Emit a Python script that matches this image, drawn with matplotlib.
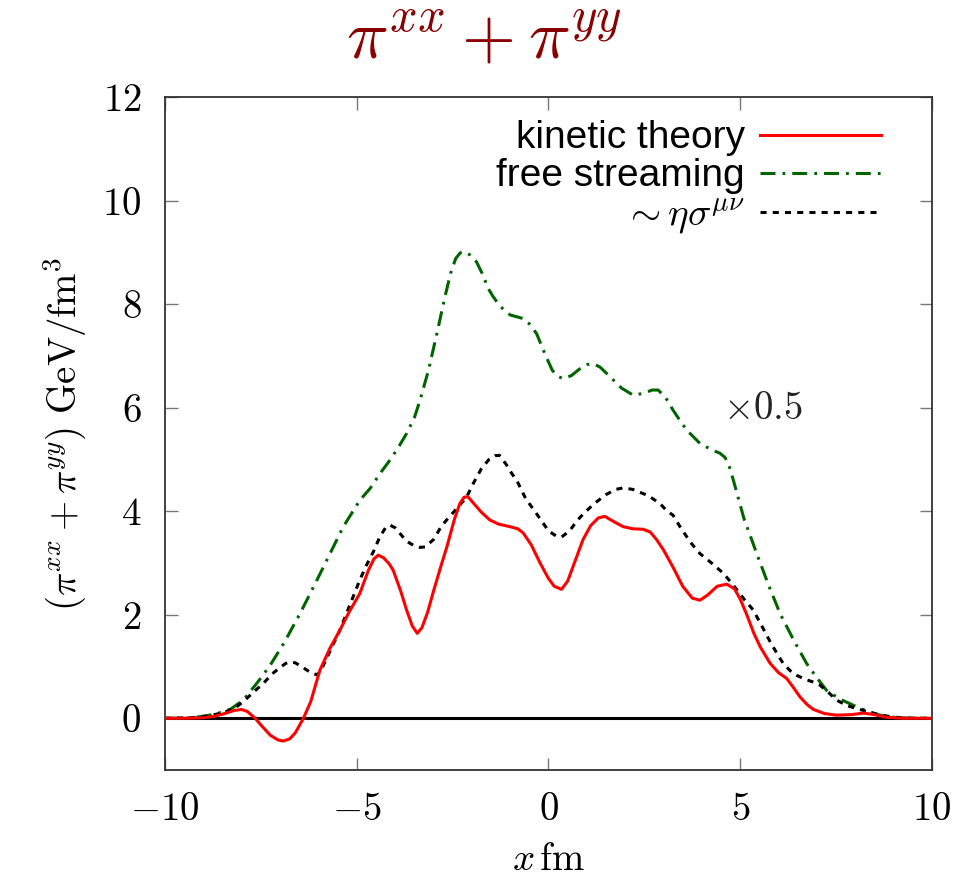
import matplotlib
matplotlib.use('Agg')
import matplotlib.pyplot as plt
from matplotlib.ticker import FuncFormatter

plt.rcParams['mathtext.fontset'] = 'cm'
plt.rcParams['font.family'] = ['Liberation Sans', 'DejaVu Sans']

# kinetic theory (red)
x_kin = [-10, -9.5, -9.0, -8.7, -8.4, -8.2, -8.0, -7.85, -7.65, -7.45, -7.25, -7.05, -6.92,
         -6.75, -6.6, -6.39, -6.2, -5.96, -5.7, -5.44, -5.2, -4.92, -4.7, -4.55, -4.44,
         -4.3, -4.15, -4.05, -3.85, -3.7, -3.55, -3.42, -3.3, -3.15, -3.0, -2.8, -2.65,
         -2.45, -2.31, -2.2, -2.1, -1.95, -1.75, -1.53, -1.3, -1.0, -0.8, -0.66, -0.45,
         -0.22, 0.0, 0.15, 0.34, 0.5, 0.7, 0.9, 1.1, 1.3, 1.47, 1.7, 1.95, 2.2, 2.47,
         2.65, 2.82, 3.0, 3.26, 3.5, 3.75, 3.95, 4.15, 4.4, 4.65, 4.85, 5.0, 5.16, 5.35,
         5.52, 5.78, 6.0, 6.21, 6.4, 6.56, 6.75, 6.91, 7.2, 7.51, 7.9, 8.21, 8.5, 8.8,
         9.2, 10]
y_kin = [0, 0, 0.01, 0.04, 0.10, 0.15, 0.17, 0.13, 0.0, -0.17, -0.33, -0.42, -0.44,
         -0.40, -0.28, 0.0, 0.32, 0.93, 1.35, 1.70, 2.05, 2.41, 2.85, 3.08, 3.15,
         3.10, 2.98, 2.86, 2.45, 2.09, 1.78, 1.64, 1.75, 2.05, 2.45, 2.95, 3.31,
         3.85, 4.15, 4.27, 4.28, 4.15, 3.98, 3.83, 3.75, 3.70, 3.66, 3.58, 3.35,
         3.0, 2.7, 2.55, 2.49, 2.65, 3.05, 3.45, 3.72, 3.87, 3.90, 3.80, 3.70, 3.66, 3.65,
         3.6, 3.45, 3.25, 2.9, 2.55, 2.32, 2.28, 2.38, 2.55, 2.59, 2.5, 2.3, 2.02, 1.65,
         1.38, 1.06, 0.88, 0.77, 0.58, 0.41, 0.26, 0.17, 0.09, 0.06, 0.07, 0.10, 0.07, 0.02,
         0, 0]

# free streaming x0.5 (green)
x_fs = [-10, -9.5, -9.2, -8.9, -8.6, -8.3, -7.96, -7.6, -7.26, -6.9, -6.48, -6.05, -5.61,
        -5.35, -4.92, -4.65, -4.4, -4.13, -3.9, -3.7, -3.5, -3.35, -3.13, -2.91, -2.7,
        -2.55, -2.42, -2.3, -2.18, -2.05, -1.88, -1.72, -1.57, -1.44, -1.25, -1.0, -0.8,
        -0.66, -0.5, -0.31, -0.1, 0.1, 0.25, 0.39, 0.6, 0.8, 1.0, 1.17, 1.35, 1.6, 1.9,
        2.21, 2.5, 2.7, 2.86, 3.05, 3.25, 3.43, 3.6, 3.8, 3.95, 4.12, 4.3, 4.47, 4.6, 4.7,
        4.82, 4.95, 5.1, 5.25, 5.43, 5.75, 6.04, 6.4, 6.73, 7.0, 7.25, 7.6, 7.95, 8.3,
        8.64, 9.0, 9.4, 10]
y_fs = [0, 0, 0.02, 0.05, 0.1, 0.17, 0.35, 0.68, 1.02, 1.45, 2.02, 2.65, 3.31,
        3.70, 4.21, 4.44, 4.72, 4.99, 5.25, 5.50, 5.8, 6.14, 6.72, 7.43, 8.14,
        8.6, 8.88, 8.99, 9.01, 8.95, 8.82, 8.58, 8.30, 8.14, 7.95, 7.79, 7.75,
        7.72, 7.62, 7.43, 7.05, 6.72, 6.6, 6.56, 6.62, 6.74, 6.83, 6.85, 6.78, 6.60, 6.38,
        6.24, 6.28, 6.34, 6.34, 6.2, 5.95, 5.75, 5.57, 5.42, 5.31, 5.24, 5.17, 5.12, 5.04, 4.9,
        4.60, 4.25, 3.85, 3.55, 3.18, 2.55, 2.02, 1.5, 1.06, 0.78, 0.54, 0.37, 0.25, 0.14,
        0.06, 0.02, 0, 0]

# ~ eta sigma (black)
x_ns = [-10, -9.3, -8.8, -8.4, -8.1, -7.96, -7.7, -7.44, -7.2, -7.0, -6.85, -6.74, -6.6,
        -6.4, -6.2, -6.04, -5.95, -5.87, -5.65, -5.44, -5.2, -4.92, -4.75, -4.57, -4.4,
        -4.25, -4.13, -4.0, -3.85, -3.7, -3.5, -3.35, -3.22, -3.0, -2.8, -2.6, -2.39,
        -2.13, -1.95, -1.75, -1.55, -1.4, -1.28, -1.1, -0.95, -0.83, -0.6, -0.31, 0.0,
        0.2, 0.34, 0.55, 0.75, 0.91, 1.2, 1.5, 1.75, 1.95, 2.2, 2.6, 2.9, 3.1, 3.25, 3.43,
        3.7, 3.95, 4.25, 4.56, 4.82, 5.1, 5.34, 5.55, 5.8, 6.0, 6.12, 6.3, 6.47, 6.7, 6.9,
        7.08, 7.3, 7.51, 7.8, 8.21, 8.6, 9.0, 9.5, 10]
y_ns = [0, 0.01, 0.05, 0.13, 0.24, 0.32, 0.5, 0.67, 0.86, 0.98, 1.06, 1.09, 1.07,
        0.98, 0.88, 0.84, 0.9, 1.02, 1.37, 1.70, 2.15, 2.67, 2.95, 3.21, 3.5,
        3.68, 3.73, 3.68, 3.55, 3.42, 3.33, 3.30, 3.31, 3.45, 3.7, 3.88, 4.05,
        4.28, 4.55, 4.82, 5.0, 5.07, 5.08, 4.9, 4.72, 4.60, 4.25, 3.95, 3.62,
        3.52, 3.50, 3.62, 3.82, 3.95, 4.15, 4.32, 4.42, 4.45, 4.42, 4.3, 4.15, 4.0, 3.92, 3.70,
        3.40, 3.18, 3.0, 2.80, 2.57, 2.3, 2.09, 1.8, 1.45, 1.2, 1.06, 0.92, 0.83, 0.75, 0.70,
        0.64, 0.5, 0.35, 0.24, 0.15, 0.07, 0.02, 0, 0]

labels = ['kinetic theory', 'free streaming', r'$\sim \eta\sigma^{\mu\nu}$']

fig = plt.figure(figsize=(9.67, 8.9), dpi=100)
ax = fig.add_axes([0.1706, 0.1348, 0.7932, 0.7562])

ax.axhline(0, color='black', lw=2.2, zorder=1)
ax.plot(x_kin, y_kin, color='#ff0000', lw=2.2, label=labels[0], zorder=3)
ax.plot(x_fs, y_fs, color='#006400', lw=2.2, dashes=(4.9, 2.3, 0.9, 2.3), label=labels[1], zorder=2)
ax.plot(x_ns, y_ns, color='black', lw=2.2, dashes=(2, 2), label=labels[2], zorder=2)

ax.set_xlim(-10, 10)
ax.set_ylim(-1, 12)
ax.set_xticks([-10, -5, 0, 5, 10])
ax.set_yticks(range(0, 13, 2))
fmt = FuncFormatter(lambda v, p: r'$%d$' % v)
ax.xaxis.set_major_formatter(fmt)
ax.yaxis.set_major_formatter(fmt)
ax.tick_params(direction='in', top=True, right=True, length=9, width=1, color='#777777',
               labelsize=28, pad=17)
ax.tick_params(axis='x', pad=16)
for s in ax.spines.values():
    s.set_color('#333333')
    s.set_linewidth(1.3)

ax.set_xlabel(r'$x\,\mathrm{fm}$', fontsize=28, labelpad=10)
ax.set_ylabel(r'$(\pi^{xx}+\pi^{yy})\ \mathrm{GeV/fm}^3$', fontsize=28, labelpad=10)

ax.text(5.6, 5.98, r'$\times 0.5$', fontsize=28, ha='center', va='center', color='#222222')

fig.text(0.5, 1 - 40 / 890, r'$\pi^{xx}+\pi^{yy}$', fontsize=50, color='#8b0000',
         ha='center', va='center')

ax.legend(loc='upper right', bbox_to_anchor=(0.964, 1.0), frameon=False, markerfirst=False,
          fontsize=28, handlelength=3.1, handletextpad=0.4, labelspacing=0.05,
          borderaxespad=0.2)

fig.savefig('out.png', dpi=100)
